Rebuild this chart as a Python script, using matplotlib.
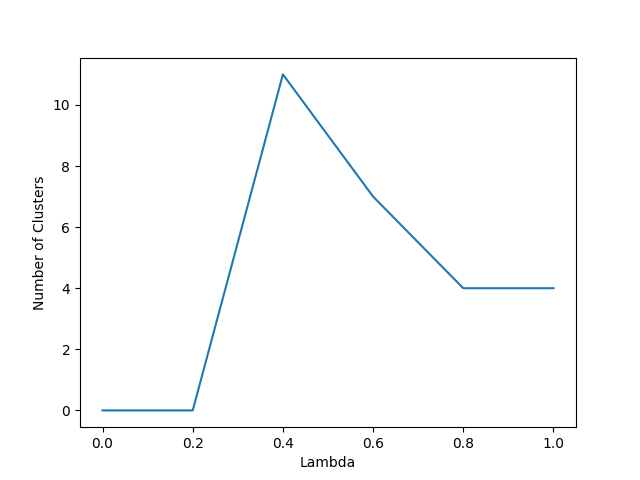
import matplotlib
matplotlib.use("Agg")
import matplotlib.pyplot as plt

lambdas = [0.0, 0.2, 0.4, 0.6, 0.8, 1.0]
n_clusters = [0, 0, 11, 7, 4, 4]

fig, ax = plt.subplots(figsize=(6.4, 4.8), dpi=100)
ax.plot(lambdas, n_clusters)
ax.set_xlabel("Lambda")
ax.set_ylabel("Number of Clusters")
plt.savefig("out.png")
